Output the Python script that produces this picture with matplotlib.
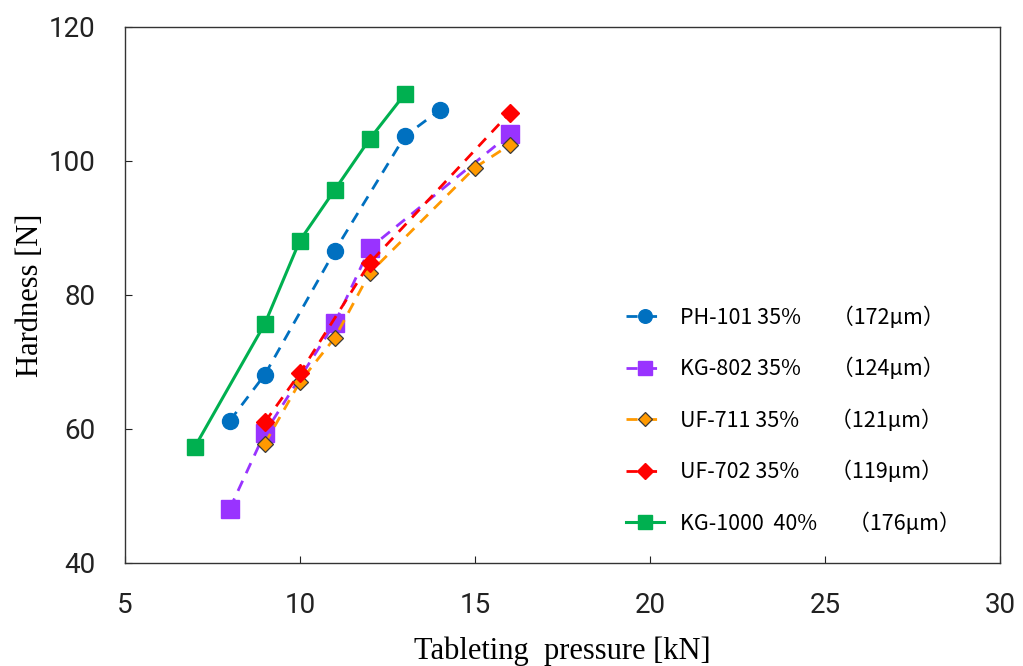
import matplotlib
matplotlib.use("Agg")
import matplotlib.pyplot as plt

# ---- data ----
ph101_x = [8, 9, 11, 13, 14]
ph101_y = [61.2, 68.1, 86.6, 103.7, 107.6]
kg802_x = [8, 9, 11, 12, 16]
kg802_y = [48.1, 59.4, 75.8, 87.0, 104.0]
uf711_x = [9, 10, 11, 12, 15, 16]
uf711_y = [57.8, 67.0, 73.6, 83.3, 99.0, 102.4]
uf702_x = [9, 10, 12, 16]
uf702_y = [61.0, 68.3, 84.8, 107.2]
kg1000_x = [7, 9, 10, 11, 12, 13]
kg1000_y = [57.3, 75.7, 88.1, 95.7, 103.3, 110.0]

labels = ["PH-101 35%  \u3000（172μm）",
          "KG-802 35%  \u3000（124μm）",
          "UF-711 35%  \u3000（121μm）",
          "UF-702 35%  \u3000（119μm）",
          "KG-1000  40%  \u3000（176μm）"]

x_ticks = [5, 10, 15, 20, 25, 30]
y_ticks = [40, 60, 80, 100, 120]

fig = plt.figure(figsize=(10.23, 6.66), dpi=100)
ax = fig.add_axes([0.122, 0.155, 0.8555, 0.8045])

lw = 2.0
h1, = ax.plot(ph101_x, ph101_y, ls=(0, (4, 3)), color="#0070C0", lw=lw,
              marker="o", ms=11.5, mec="#0070C0", mfc="#0070C0")
h2, = ax.plot(kg802_x, kg802_y, ls=(0, (4, 3)), color="#9933FF", lw=lw,
              marker="s", ms=12.5, mec="#9933FF", mfc="#9933FF")
h3, = ax.plot(uf711_x, uf711_y, ls=(0, (4, 3)), color="#FF9900", lw=lw,
              marker="D", ms=8.5, mec="#3a3a3a", mew=0.9, mfc="#FF9900")
h4, = ax.plot(uf702_x, uf702_y, ls=(0, (4, 3)), color="#FF0000", lw=lw,
              marker="D", ms=9, mec="#FF0000", mfc="#FF0000")
h5, = ax.plot(kg1000_x, kg1000_y, ls="-", color="#00B050", lw=2.2,
              marker="s", ms=11.5, mec="#00B050", mfc="#00B050")

ax.set_xlim(5, 30)
ax.set_ylim(40, 120)
ax.set_xticks(x_ticks)
ax.set_yticks(y_ticks)
ax.tick_params(direction="in", length=5, width=0.8, top=False, right=False, pad=21,
               colors="#222222")
for lab in ax.get_xticklabels() + ax.get_yticklabels():
    lab.set_fontfamily("Roboto")
    lab.set_fontsize(20)
for s in ax.spines.values():
    s.set_linewidth(1.0)
    s.set_color("#333333")

ax.set_xlabel("Tableting  pressure [kN]", fontfamily="Liberation Serif", fontsize=22, labelpad=13)
ax.set_ylabel("Hardness [N]", fontfamily="Liberation Serif", fontsize=22, labelpad=3)

leg = ax.legend([h1, h2, h3, h4, h5], labels, loc="upper left",
                bbox_to_anchor=(0.55, 0.515), frameon=False,
                prop={"family": ["Noto Sans CJK SC", "DejaVu Sans"], "size": 15.5},
                handlelength=1.8, labelspacing=1.35, handletextpad=0.75, markerscale=0.85)

fig.savefig("out.png", dpi=100)
